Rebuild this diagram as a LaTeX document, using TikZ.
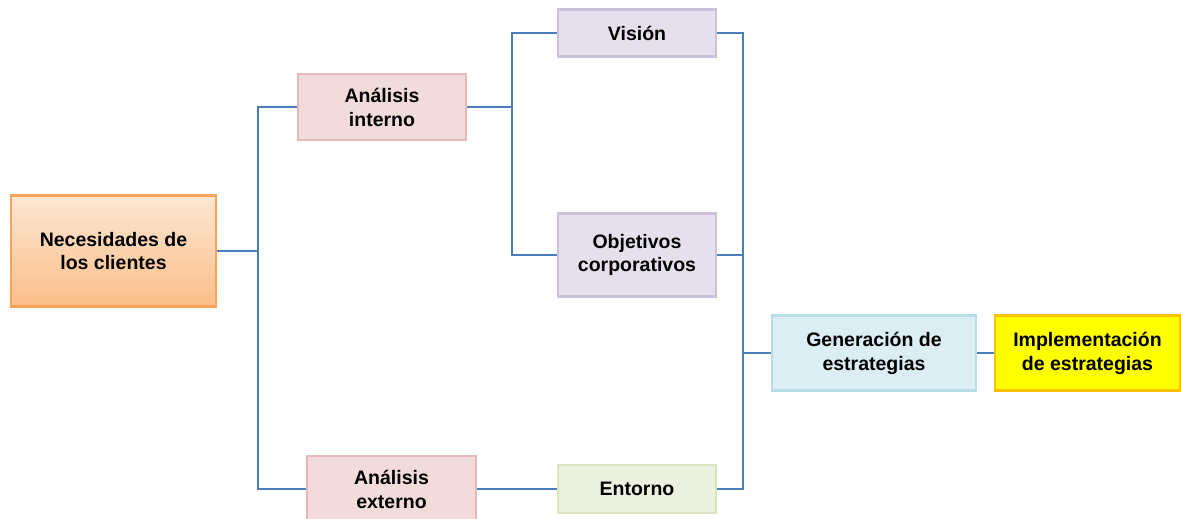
\documentclass[tikz,border=0pt]{standalone}
\usepackage{fontspec}
\setmainfont{Liberation Sans}
\usepackage{xcolor}
\usepackage{tikz}
\definecolor{linkblue}{HTML}{4A7EBB}
\definecolor{orangetop}{HTML}{FDE7D3}
\definecolor{orangebot}{HTML}{FBBE88}
\definecolor{orangeline}{HTML}{F9A25A}
\definecolor{redfill}{HTML}{F2DCDB}
\definecolor{redline}{HTML}{E6B9B8}
\definecolor{violetfill}{HTML}{E5E0EC}
\definecolor{violetline}{HTML}{CCC1DA}
\definecolor{bluefill}{HTML}{DBEEF4}
\definecolor{blueline}{HTML}{B7DEE8}
\definecolor{greenfill}{HTML}{EBF1DE}
\definecolor{greenline}{HTML}{D7E4BD}
\definecolor{yellowfill}{HTML}{FFFF00}
\definecolor{yellowline}{HTML}{FFC000}
\tikzset{
  box/.style={rectangle, align=center, line width=1.2pt, inner sep=2pt,
    font=\fontsize{11.1}{13.6}\selectfont\bfseries},
  boxorange/.style={box, draw=orangeline, top color=orangetop, bottom color=orangebot},
  boxred/.style={box, draw=redline, fill=redfill},
  boxviolet/.style={box, draw=violetline, fill=violetfill},
  boxblue/.style={box, draw=blueline, fill=bluefill},
  boxgreen/.style={box, draw=greenline, fill=greenfill},
  boxyellow/.style={box, draw=yellowline, fill=yellowfill, line width=1.6pt},
  conn/.style={draw=linkblue, line width=1pt}
}

\begin{document}
\begin{tikzpicture}[x=0.02cm, y=-0.02cm]
  \useasboundingbox (0,0) rectangle (1181,518);
  \clip (0,0) rectangle (1181,518);
  % boxes
  \node[boxorange, minimum width=4.1cm, minimum height=2.22cm] (nec) at (113.5,251) {Necesidades de\\los clientes};
  \node[boxred, minimum width=3.36cm, minimum height=1.32cm] (aint) at (382,107) {Análisis\\interno};
  \node[boxred, minimum width=3.38cm, minimum height=1.32cm] (aext) at (391.5,489) {Análisis\\externo};
  \node[boxviolet, minimum width=3.16cm, minimum height=0.94cm] (vis) at (637,33) {Visión};
  \node[boxviolet, minimum width=3.16cm, minimum height=1.66cm] (obj) at (637,255) {Objetivos\\corporativos};
  \node[boxgreen, minimum width=3.16cm, minimum height=0.96cm] (ent) at (637,489) {Entorno};
  \node[boxblue, minimum width=4.08cm, minimum height=1.5cm] (gen) at (874,353) {Generación de\\estrategias};
  \node[boxyellow, minimum width=3.7cm, minimum height=1.5cm] (impl) at (1087.5,353) {Implementación\\de estrategias};
  % branch points
  \coordinate (j1) at (258,251);
  \coordinate (j2) at (512,107);
  \coordinate (j3) at (743,353);
  % connectors
  \draw[conn] (nec.east) -- (j1);
  \draw[conn] (aint.west) -| (j1) |- (aext.west);
  \draw[conn] (aint.east) -- (j2);
  \draw[conn] (vis.west) -| (j2) |- (obj.west);
  \draw[conn] (aext.east) -- (ent.west);
  \draw[conn] (vis.east) -| (j3) |- (ent.east);
  \draw[conn] (obj.east) -| (j3);
  \draw[conn] (j3) -- (gen.west);
  \draw[conn] (gen.east) -- (impl.west);
\end{tikzpicture}
\end{document}
